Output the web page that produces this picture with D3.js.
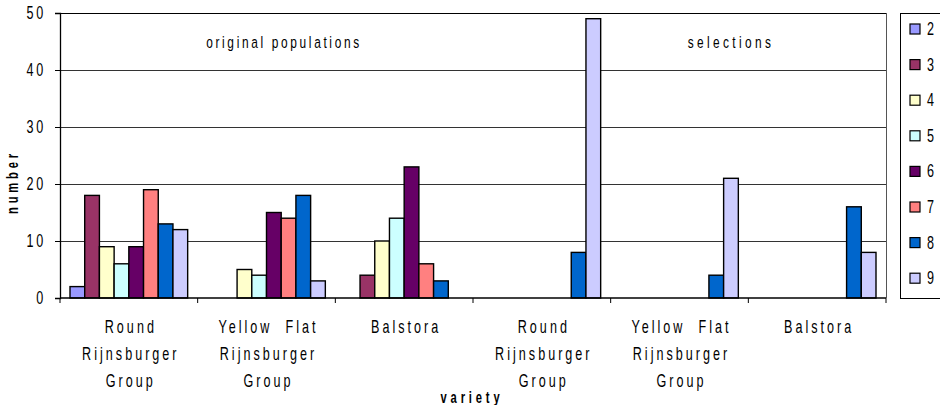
<!doctype html>
<html>
<head>
<meta charset="UTF-8">
<title>variety counts</title>
<script src="https://d3js.org/d3.v7.min.js"></script>
<style>
  body { margin: 0; background: #fff; }
  text { font-family: "Liberation Sans", Arial, sans-serif; fill: #000; white-space: pre; }
</style>
</head>
<body>
<svg id="chart" width="940" height="405"></svg>
<script>
// categories along the x axis (first three original, last three selections)
var varieties = [
  ["Round", "Rijnsburger", "Group"],
  ["Yellow  Flat", "Rijnsburger", "Group"],
  ["Balstora"],
  ["Round", "Rijnsburger", "Group"],
  ["Yellow  Flat", "Rijnsburger", "Group"],
  ["Balstora"]
];
var classes = ["2", "3", "4", "5", "6", "7", "8", "9"];
var colors  = ["#9999FF", "#993366", "#FFFFCC", "#CCFFFF", "#660066", "#FF8080", "#0066CC", "#CCCCFF"];

// one row per variety, one value per class
var counts = [
  [2, 18, 9, 6, 9, 19, 13, 12],
  [0, 0, 5, 4, 15, 14, 18, 3],
  [0, 4, 10, 14, 23, 6, 3, 0],
  [0, 0, 0, 0, 0, 0, 8, 49],
  [0, 0, 0, 0, 0, 0, 4, 21],
  [0, 0, 0, 0, 0, 0, 16, 8]
];
var yTicks = [0, 10, 20, 30, 40, 50];

var svg = d3.select("#chart");
var pLeft = 60, pRight = 886, pTop = 13, pBottom = 298;
var SX = 0.7; // the old chart font is a narrow one, squeeze it

// squeezed text helper
function label(parent, x, y, str, size, ls, anchor, bold, rot) {
  var g = parent.append("g")
    .attr("transform", "translate(" + x + "," + y + ")" + (rot ? " rotate(" + rot + ")" : "") + " scale(" + SX + ",1)");
  g.append("text")
    .attr("text-anchor", anchor || "middle")
    .style("font-size", size + "px")
    .style("letter-spacing", ls + "px")
    .style("font-weight", bold ? "bold" : "normal")
    .text(str);
  return g;
}

var x0 = d3.scaleBand().domain(d3.range(varieties.length)).range([pLeft, pRight]);
var x1 = d3.scaleBand().domain(classes).range([10, x0.bandwidth() - 10]);
var y = d3.scaleLinear().domain([0, 50]).range([pBottom, pTop]);

// gridlines
svg.append("g").selectAll("line").data(yTicks.slice(1)).join("line")
  .attr("x1", pLeft).attr("x2", pRight)
  .attr("y1", d => y(d) + 0.5).attr("y2", d => y(d) + 0.5)
  .attr("stroke", d => d == 50 ? "#000" : "#333").attr("stroke-width", 1);

// right border
svg.append("line").attr("x1", pRight + 0.5).attr("x2", pRight + 0.5).attr("y1", pTop).attr("y2", pBottom)
  .attr("stroke", "#555");

// bars
var groups = svg.append("g").selectAll("g").data(counts).join("g")
  .attr("transform", (d, i) => "translate(" + x0(i) + ",0)");
groups.selectAll("rect").data(d => d.map((v, j) => ({v: v, k: classes[j], c: colors[j]})).filter(e => e.v > 0))
  .join("rect")
  .attr("x", d => x1(d.k))
  .attr("width", x1.bandwidth())
  .attr("y", d => y(d.v))
  .attr("height", d => y(0) - y(d.v))
  .attr("fill", d => d.c)
  .attr("stroke", "#000").attr("stroke-width", 1.4);

// y axis (labels drawn by hand so they can be squeezed)
var yAxis = svg.append("g").attr("transform", "translate(" + pLeft + ",0)")
  .call(d3.axisLeft(y).tickValues(yTicks).tickSize(5).tickFormat(""));
yAxis.select(".domain").attr("stroke", "#000").attr("stroke-width", 1.3);
yAxis.selectAll(".tick line").attr("stroke", "#000");
yTicks.forEach(function(t) {
  label(svg, 46, y(t) + 6, String(t), 18, 4, "end");
});

// x axis
var xAxis = svg.append("g").attr("transform", "translate(0," + pBottom + ")");
xAxis.append("line").attr("x1", pLeft).attr("x2", pRight).attr("stroke", "#000").attr("stroke-width", 1.3);
xAxis.selectAll("line.tk").data(d3.range(varieties.length + 1)).join("line").attr("class", "tk")
  .attr("x1", d => pLeft + d * x0.bandwidth()).attr("x2", d => pLeft + d * x0.bandwidth())
  .attr("y1", 0).attr("y2", 5).attr("stroke", "#000");

varieties.forEach(function(lines, i) {
  lines.forEach(function(s, j) {
    label(svg, x0(i) + x0.bandwidth() / 2 + 2, 333 + j * 26.8, s, 18, 4.3, "middle");
  });
});

// section labels
label(svg, 284, 48, "original populations", 17, 3.8, "middle");
label(svg, 731, 48, "selections", 17, 4.8, "middle");

// axis titles
label(svg, 18, 182, "number", 16, 5.5, "middle", true, -90);
label(svg, 472, 403, "variety", 16, 5.5, "middle", true);

// legend
var leg = svg.append("g");
leg.append("rect").attr("x", 900.5).attr("y", 13.5).attr("width", 60).attr("height", 285)
  .attr("fill", "#fff").attr("stroke", "#000");
classes.forEach(function(c, i) {
  var yy = 24 + i * 35.6;
  leg.append("rect").attr("x", 910).attr("y", yy).attr("width", 10).attr("height", 10)
    .attr("fill", colors[i]).attr("stroke", "#000").attr("stroke-width", 1.2);
  label(leg, 927, yy + 11, c, 18, 0, "start");
});
</script>
</body>
</html>
